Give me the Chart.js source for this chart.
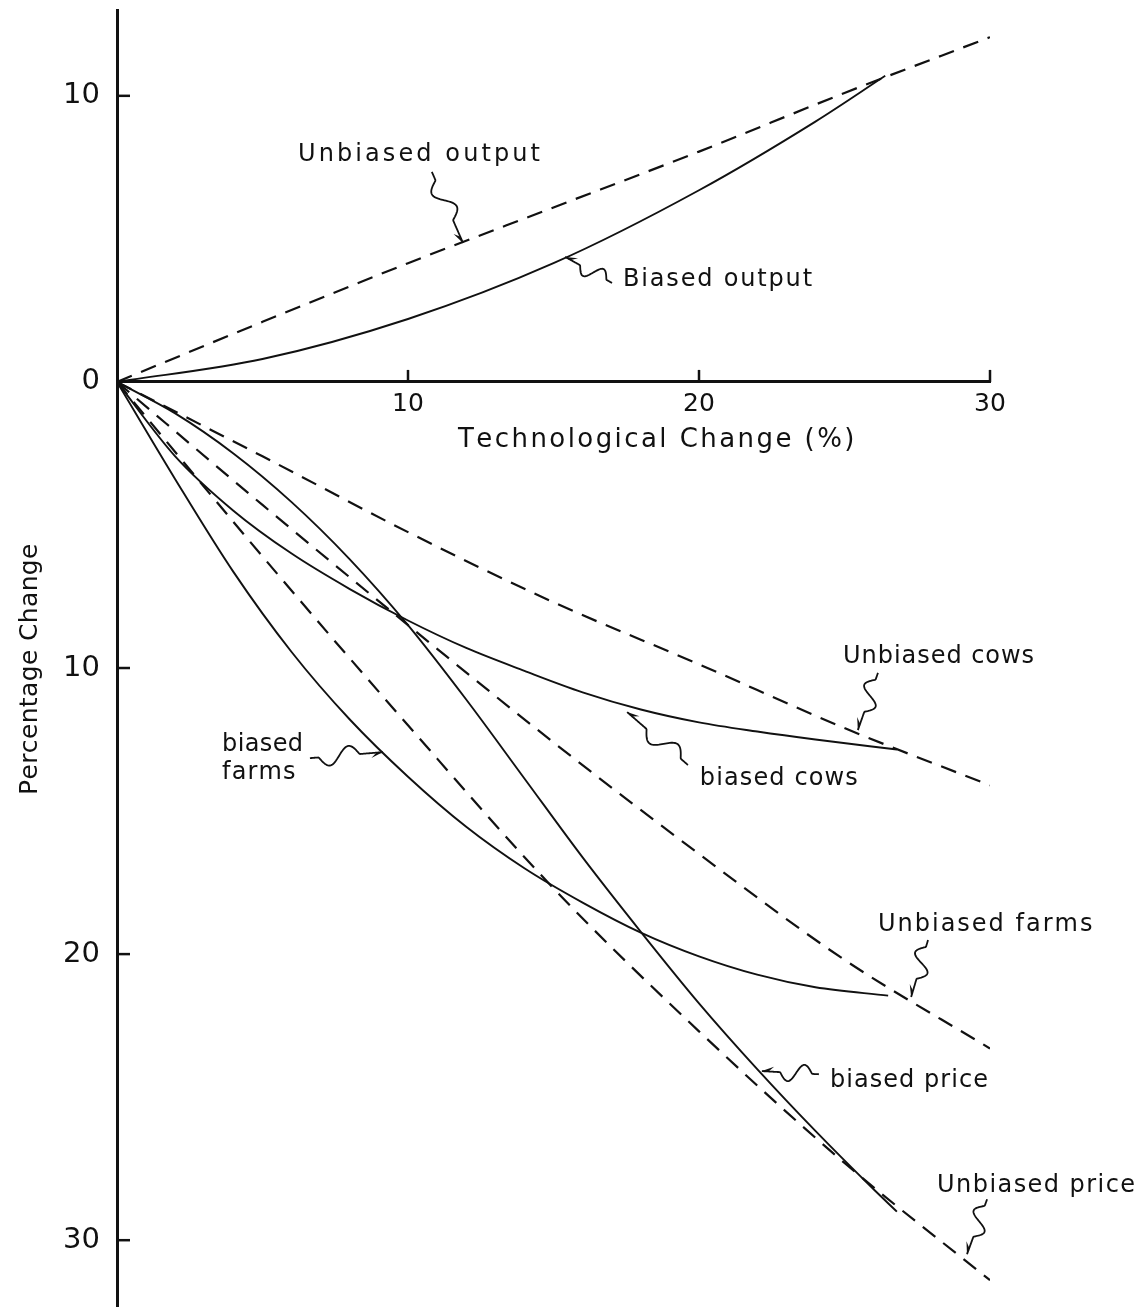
<!DOCTYPE html>
<html>
<head>
<meta charset="utf-8">
<script src="https://cdn.jsdelivr.net/npm/chart.js@4.4.1/dist/chart.umd.min.js"></script>
<style>
html,body{margin:0;padding:0;background:#fff;}
#wrap{width:1147px;height:1310px;position:relative;}
</style>
</head>
<body>
<div id="wrap"><canvas id="c"></canvas></div>
<script>
// ---- tick values ----
const xTicks = [10, 20, 30];
const yTicks = [10, 0, -10, -20, -30];

// ---- series (x = technological change %, y = percentage change) ----
const unbiasedOutputX = [0, 5, 10, 15, 20, 25, 30];
const unbiasedOutputY = [0, 2.1, 4.15, 6.1, 8.05, 10.1, 12.05];

const biasedOutputX = [0, 5, 10, 15, 20, 24, 26.4];
const biasedOutputY = [0, 0.8, 2.2, 4.15, 6.7, 9.1, 10.7];

const unbiasedCowsX = [0, 5, 10, 15, 20, 25, 30];
const unbiasedCowsY = [0, -2.6, -5.25, -7.7, -9.87, -12.1, -14.1];

const biasedCowsX = [0, 2, 4, 6, 8, 10, 12, 14, 16, 18, 20, 22, 24, 26.8];
const biasedCowsY = [0, -2.6, -4.5, -6.0, -7.24, -8.34, -9.3, -10.1, -10.85, -11.45, -11.9, -12.22, -12.5, -12.85];

const unbiasedFarmsX = [0, 5, 10, 15, 20, 25, 30];
const unbiasedFarmsY = [0, -4.3, -8.5, -12.6, -16.5, -20.2, -23.3];

const biasedFarmsX = [0, 2, 4, 6, 8, 10, 12, 14, 16, 18, 20, 22, 24, 26.5];
const biasedFarmsY = [0, -3.4, -6.64, -9.44, -11.8, -13.8, -15.55, -17.0, -18.2, -19.25, -20.08, -20.72, -21.16, -21.45];

const unbiasedPriceX = [0, 5, 10, 15, 20, 25, 30];
const unbiasedPriceY = [0, -6.1, -12.0, -17.7, -22.7, -27.3, -31.4];

const biasedPriceX = [0, 2, 4, 6, 8, 10, 12, 14, 16, 18, 20, 22, 24, 26, 26.8];
const biasedPriceY = [0, -1.1, -2.5, -4.2, -6.2, -8.5, -11.1, -13.86, -16.62, -19.22, -21.72, -24.02, -26.18, -28.22, -29.0];

// ---- text ----
const xTitle = 'Technological Change (%)';
const yTitle = 'Percentage Change';

const FONT = 'DejaVu Sans';
const INK = '#111';

const pts = (xs, ys) => xs.map((x, i) => ({x: x, y: ys[i]}));
const DASH = [16, 10];

function ds(label, xs, ys, dashed) {
  return {
    label: label,
    data: pts(xs, ys),
    borderColor: INK,
    borderWidth: dashed ? 2.2 : 1.9,
    borderDash: dashed ? DASH : [],
    cubicInterpolationMode: 'monotone',
    pointRadius: 0,
    fill: false
  };
}

// annotation labels & squiggle arrows, positioned in data units
const notes = [
  {text: 'Unbiased output', at: [6.22, 7.94], w: 242, from: [10.82, 7.34], to: [11.89, 4.86]},
  {text: 'Biased output',   at: [17.39, 3.57], w: 189, from: [17.01, 3.46], to: [15.40, 4.37]},
  {text: 'Unbiased cows',   at: [24.95, -9.62], w: 191, from: [26.15, -10.17], to: [25.46, -12.17]},
  {text: 'biased cows',     at: [20.03, -13.88], w: 158, from: [19.62, -13.39], to: [17.53, -11.54]},
  {text: 'biased',          at: [3.61, -12.69], w: 81, from: [6.63, -13.15], to: [9.14, -12.94]},
  {text: 'farms',           at: [3.61, -13.67], w: 73},
  {text: 'Unbiased farms',  at: [26.15, -18.99], w: 214, from: [27.87, -19.51], to: [27.29, -21.50]},
  {text: 'biased price',    at: [24.50, -24.44], w: 158, from: [24.12, -24.20], to: [22.16, -24.09]},
  {text: 'Unbiased price',  at: [28.18, -28.08], w: 198, from: [29.90, -28.57], to: [29.21, -30.49]}
];

function spacedText(ctx, text, x, y, targetW) {
  const natural = ctx.measureText(text).width;
  const gap = text.length > 1 ? (targetW - natural) / (text.length - 1) : 0;
  let cx = x;
  for (const ch of text) {
    ctx.fillText(ch, cx, y);
    cx += ctx.measureText(ch).width + gap;
  }
}

function squiggle(ctx, sx, sy, tx, ty) {
  const dx = tx - sx, dy = ty - sy, L = Math.hypot(dx, dy);
  const ux = dx / L, uy = dy / L, nx = -uy, ny = ux;
  const amp = Math.min(9, L * 0.15);
  ctx.beginPath();
  for (let i = 0; i <= 80; i++) {
    const t = i / 80;
    let off = 0;
    if (t > 0.12 && t < 0.68) off = amp * Math.sin(2 * Math.PI * (t - 0.12) / 0.56);
    const px = sx + ux * L * t + nx * off, py = sy + uy * L * t + ny * off;
    if (i) ctx.lineTo(px, py); else ctx.moveTo(px, py);
  }
  ctx.stroke();
  const ah = 12, aw = 5;
  ctx.beginPath();
  ctx.moveTo(tx, ty);
  ctx.lineTo(tx - ux * ah + nx * aw, ty - uy * ah + ny * aw);
  ctx.lineTo(tx - ux * ah * 0.55, ty - uy * ah * 0.55);
  ctx.closePath();
  ctx.fill();
}

const overlay = {
  id: 'overlay',
  afterDraw(chart) {
    const {ctx, scales: {x, y}} = chart;
    const X = v => x.getPixelForValue(v), Y = v => y.getPixelForValue(v);
    ctx.save();
    ctx.strokeStyle = INK; ctx.fillStyle = INK;
    // inward tick marks
    ctx.lineWidth = 2.5;
    yTicks.forEach(v => {
      if (v === 0) return;
      const py = Y(v);
      ctx.beginPath(); ctx.moveTo(X(0), py); ctx.lineTo(X(0) + 13, py); ctx.stroke();
    });
    xTicks.forEach(v => {
      const px = X(v);
      ctx.beginPath(); ctx.moveTo(px, Y(0)); ctx.lineTo(px, Y(0) - 12); ctx.stroke();
    });
    // axis titles
    ctx.textBaseline = 'middle';
    ctx.textAlign = 'left';
    ctx.font = '26px "' + FONT + '"';
    spacedText(ctx, xTitle, 458, Y(0) + 58, 392);
    ctx.save();
    ctx.translate(30, 670);
    ctx.rotate(-Math.PI / 2);
    ctx.font = '25px "' + FONT + '"';
    spacedText(ctx, yTitle, -125, 0, 250);
    ctx.restore();
    // annotations
    ctx.font = '24px "' + FONT + '"';
    ctx.lineWidth = 1.8;
    notes.forEach(n => {
      spacedText(ctx, n.text, X(n.at[0]), Y(n.at[1]), n.w);
      if (n.from) squiggle(ctx, X(n.from[0]), Y(n.from[1]), X(n.to[0]), Y(n.to[1]));
    });
    ctx.restore();
  }
};

new Chart(document.getElementById('c'), {
  type: 'line',
  data: {
    datasets: [
      ds('Unbiased output', unbiasedOutputX, unbiasedOutputY, true),
      ds('Biased output', biasedOutputX, biasedOutputY, false),
      ds('Unbiased cows', unbiasedCowsX, unbiasedCowsY, true),
      ds('Biased cows', biasedCowsX, biasedCowsY, false),
      ds('Unbiased farms', unbiasedFarmsX, unbiasedFarmsY, true),
      ds('Biased farms', biasedFarmsX, biasedFarmsY, false),
      ds('Unbiased price', unbiasedPriceX, unbiasedPriceY, true),
      ds('Biased price', biasedPriceX, biasedPriceY, false)
    ]
  },
  options: {
    responsive: true,
    maintainAspectRatio: false,
    animation: false,
    layout: {padding: {top: 10, bottom: 4, left: 0, right: 157}},
    plugins: {legend: {display: false}, tooltip: {enabled: false}},
    scales: {
      x: {
        type: 'linear', min: 0, max: 30, position: {y: 0},
        afterFit: s => { s.paddingLeft = 0; s.paddingRight = 0; s.paddingTop = 0; s.paddingBottom = 0; },
        grid: {display: false, drawTicks: false},
        border: {display: true, color: INK, width: 3},
        afterBuildTicks: s => { s.ticks = xTicks.map(v => ({value: v})); },
        ticks: {autoSkip: false, maxRotation: 0, padding: 8, color: INK,
                font: {family: FONT, size: 25}, callback: v => String(v)}
      },
      y: {
        type: 'linear', min: -32.3, max: 13, position: 'left',
        afterFit: s => { s.width = 117; s.paddingTop = 0; s.paddingBottom = 0; s.paddingLeft = 0; s.paddingRight = 0; },
        grid: {display: false, drawTicks: false},
        border: {display: true, color: INK, width: 3},
        afterBuildTicks: s => { s.ticks = yTicks.map(v => ({value: v})); },
        ticks: {autoSkip: false, padding: 17, color: INK,
                font: {family: FONT, size: 29}, callback: v => String(Math.abs(v))}
      }
    }
  },
  plugins: [overlay]
});
</script>
</body>
</html>
